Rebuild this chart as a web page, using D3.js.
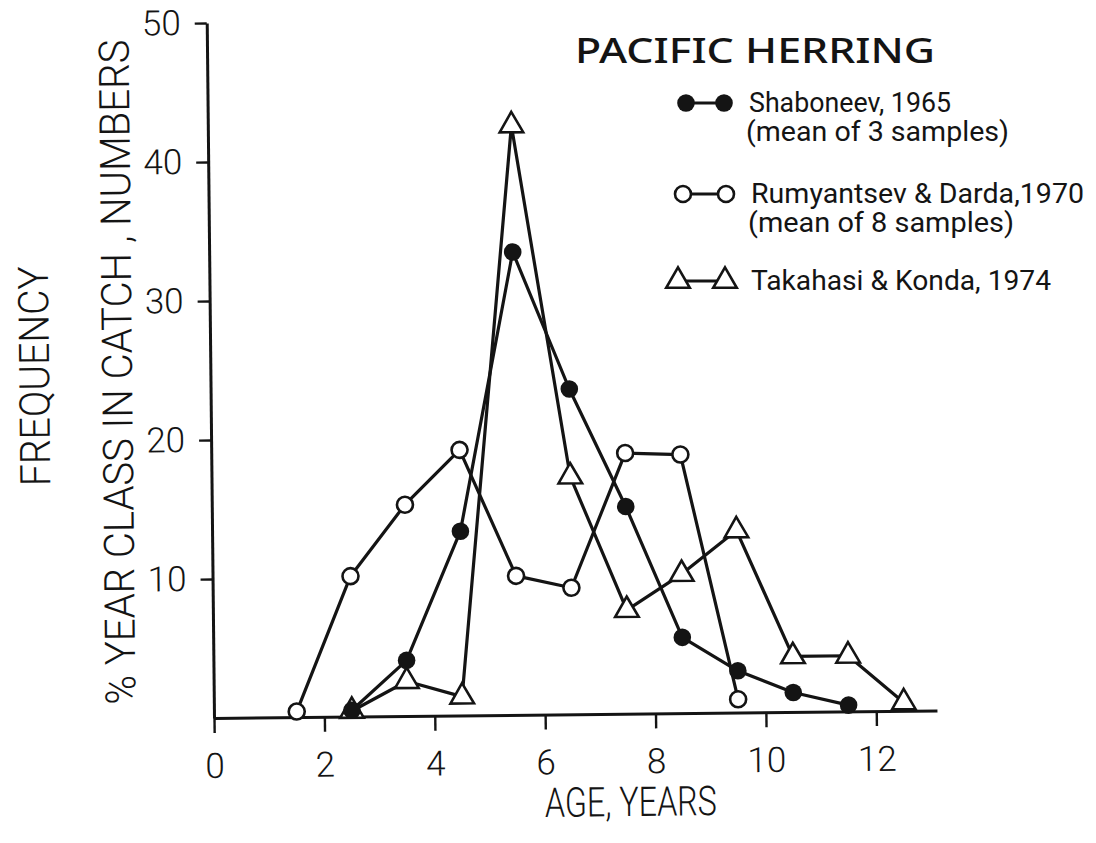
<!DOCTYPE html>
<html>
<head>
<meta charset="utf-8">
<script src="https://cdn.jsdelivr.net/npm/d3@7"></script>
<style>
  html, body { margin: 0; padding: 0; background: #fff; }
  svg { display: block; }
  text { font-family: Roboto, "DejaVu Sans", sans-serif; fill: #141414; }
</style>
</head>
<body>
<svg id="chart" width="1096" height="843"></svg>
<script>
// Age-class composition of Pacific herring catches (% of numbers per age)
const shaboneevAges = [2.5, 3.5, 4.5, 5.5, 6.5, 7.5, 8.5, 9.5, 10.5, 11.5];
const shaboneevPct  = [0.45, 4.0, 13.25, 33.3, 23.4, 14.9, 5.45, 3.0, 1.4, 0.45];

const rumyantsevAges = [1.5, 2.5, 3.5, 4.5, 5.5, 6.5, 7.5, 8.5, 9.5];
const rumyantsevPct  = [0.4, 10.1, 15.2, 19.1, 10.0, 9.1, 18.75, 18.6, 0.95];

const takahasiAges = [2.5, 3.5, 4.5, 5.5, 6.5, 7.5, 8.5, 9.5, 10.5, 11.5, 12.5];
const takahasiPct  = [0.4, 2.5, 1.35, 42.4, 17.1, 7.45, 10.0, 13.1, 4.0, 4.0, 0.6];

const xTicks = [0, 2, 4, 6, 8, 10, 12];
const yTicks = [10, 20, 30, 40, 50];

const seriesNames = ["Shaboneev, 1965", "Rumyantsev & Darda,1970", "Takahasi & Konda, 1974"];
const seriesNotes = ["(mean of 3 samples)", "(mean of 8 samples)", ""];
const seriesMarkers = ["filled", "open", "triangle"];

const series = [
  { ages: shaboneevAges, pct: shaboneevPct },
  { ages: rumyantsevAges, pct: rumyantsevPct },
  { ages: takahasiAges, pct: takahasiPct }
].map((s, i) => ({
  name: seriesNames[i],
  note: seriesNotes[i],
  marker: seriesMarkers[i],
  points: s.ages.map((a, j) => ({ age: a, pct: s.pct[j] }))
}));

const ink = "#141414";
const svg = d3.select("#chart");

// plot frame: the drawing sits a little askew on the page
const x = d3.scaleLinear().domain([0, 13.1]).range([214, 937]);
const y = d3.scaleLinear().domain([0, 50]).range([718, 23]);
const plot = svg.append("g").attr("transform", "rotate(-0.6,214,718)");

// x axis
const xAxis = plot.append("g")
  .attr("transform", `translate(0,${y(0)})`)
  .call(d3.axisBottom(x).tickValues(xTicks).tickSize(15).tickSizeOuter(0)
        .tickPadding(20).tickFormat(d3.format("d")));

// y axis
const yAxis = plot.append("g")
  .attr("transform", `translate(${x(0)},0)`)
  .call(d3.axisLeft(y).tickValues(yTicks).tickSize(12).tickSizeOuter(0)
        .tickPadding(14).tickFormat(d3.format("d")));

[xAxis, yAxis].forEach(ax => {
  ax.select(".domain").attr("stroke", ink).attr("stroke-width", 3);
  ax.selectAll(".tick line").attr("stroke", ink).attr("stroke-width", 2.4);
  ax.selectAll(".tick text")
    .attr("fill", ink)
    .style("font-family", "Roboto, 'DejaVu Sans', sans-serif")
    .style("font-weight", 300)
    .style("font-size", "35px");
});

// series lines
const line = d3.line().x(d => x(d.age)).y(d => y(d.pct));
plot.append("g").selectAll("path")
  .data(series)
  .join("path")
  .attr("d", s => line(s.points))
  .attr("fill", "none")
  .attr("stroke", ink)
  .attr("stroke-width", 3.2)
  .attr("stroke-linejoin", "round");

// markers
const tri = d3.symbol().type(d3.symbolTriangle).size(240);
function drawMarker(sel, kind) {
  if (kind === "triangle") {
    sel.append("path").attr("d", tri())
      .attr("fill", "#fff").attr("stroke", ink).attr("stroke-width", 2.6)
      .attr("stroke-linejoin", "miter");
  } else if (kind === "open") {
    sel.append("circle").attr("r", 8)
      .attr("fill", "#fff").attr("stroke", ink).attr("stroke-width", 2.6);
  } else {
    sel.append("circle").attr("r", 8.8).attr("fill", ink);
  }
}

["triangle", "open", "filled"].forEach(kind => {
  const s = series.find(d => d.marker === kind);
  plot.append("g").selectAll("g")
    .data(s.points)
    .join("g")
    .attr("transform", d => `translate(${x(d.age)},${y(d.pct)})`)
    .each(function () { drawMarker(d3.select(this), kind); });
});

// axis titles
svg.append("text")
  .attr("transform", "translate(132,372) rotate(-90.6)")
  .attr("text-anchor", "middle")
  .attr("textLength", 665).attr("lengthAdjust", "spacingAndGlyphs")
  .style("font-size", "42px").style("font-weight", 300)
  .text("% YEAR CLASS IN CATCH , NUMBERS");

svg.append("text")
  .attr("transform", "translate(49,376) rotate(-90.6)")
  .attr("text-anchor", "middle")
  .attr("textLength", 220).attr("lengthAdjust", "spacingAndGlyphs")
  .style("font-size", "42px").style("font-weight", 300)
  .text("FREQUENCY");

svg.append("text")
  .attr("transform", "translate(631,816) rotate(-0.6)")
  .attr("text-anchor", "middle")
  .attr("textLength", 172).attr("lengthAdjust", "spacingAndGlyphs")
  .style("font-size", "41px").style("font-weight", 300)
  .text("AGE, YEARS");

// title
svg.append("text")
  .attr("x", 575).attr("y", 63)
  .attr("textLength", 360).attr("lengthAdjust", "spacingAndGlyphs")
  .style("font-family", "'Noto Sans', sans-serif")
  .style("font-size", "35px").style("font-weight", 500)
  .text("PACIFIC HERRING");

// legend
const legendRows = [
  { y: 103, xl: 686, xr: 724, tx: 749, nameW: 202, noteW: 263 },
  { y: 194, xl: 683, xr: 726, tx: 751, nameW: 333, noteW: 266 },
  { y: 281, xl: 678, xr: 725, tx: 751, nameW: 300, noteW: 0 }
];
const legend = svg.append("g");
series.forEach((s, i) => {
  const r = legendRows[i];
  const row = legend.append("g");
  row.append("line")
    .attr("x1", r.xl).attr("x2", r.xr).attr("y1", r.y).attr("y2", r.y)
    .attr("stroke", ink).attr("stroke-width", 3);
  [r.xl, r.xr].forEach(mx => {
    drawMarker(row.append("g").attr("transform", `translate(${mx},${r.y})`), s.marker);
  });
  row.append("text")
    .attr("x", r.tx).attr("y", r.y + 9)
    .attr("textLength", r.nameW).attr("lengthAdjust", "spacingAndGlyphs")
    .style("font-size", "27px")
    .text(s.name);
  if (s.note) {
    row.append("text")
      .attr("x", r.tx - 3).attr("y", r.y + 38)
      .attr("textLength", r.noteW).attr("lengthAdjust", "spacingAndGlyphs")
      .style("font-size", "27px")
      .text(s.note);
  }
});
</script>
</body>
</html>
